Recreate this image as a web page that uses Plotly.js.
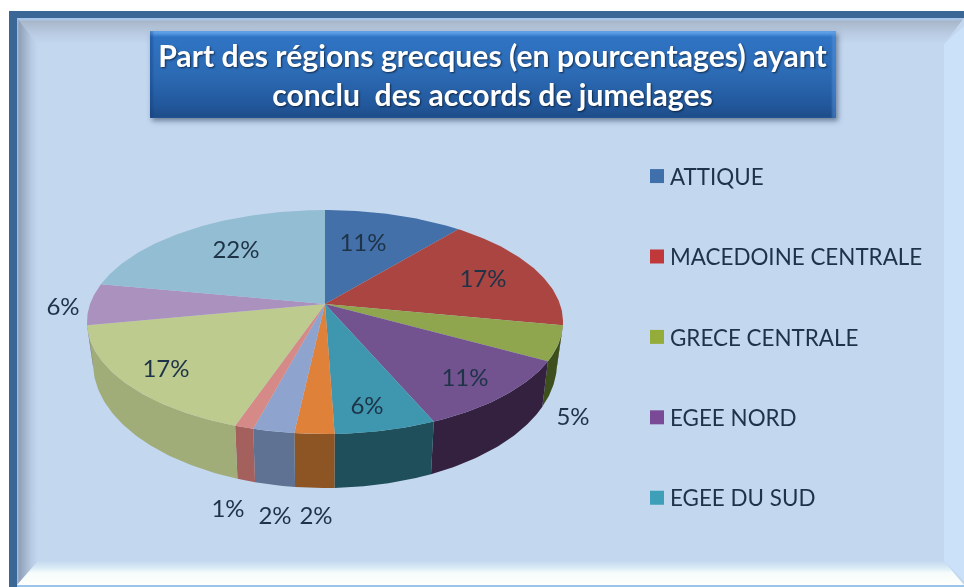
<!DOCTYPE html>
<html><head><meta charset="utf-8">
<script src="https://cdn.plot.ly/plotly-3.0.1.min.js"></script>
<style>
html,body{margin:0;padding:0;background:#fff;width:964px;height:587px;overflow:hidden}
#frame{position:absolute;left:9px;top:11px;width:955px;height:576px;background:linear-gradient(#3a6795,#3a6795)}
#inner{position:absolute;left:17px;top:18px;width:947px;height:569px;background:#c3d7ef}
.b{position:absolute}
#bt{left:17px;top:18px;width:947px;height:26px;background:linear-gradient(#a8c4e6 0,#a8c4e6 2px,#a9b6c8 3px,#b0c1d6 9px,#bccee6 18px,#c3d7ef 100%);clip-path:polygon(0 0,100% 0,calc(100% - 20px) 100%,21px 100%)}
#bl{left:17px;top:18px;width:21px;height:567px;background:linear-gradient(90deg,#a8c4e6 0,#8f9fb8 2px,#a3b5cc 8px,#b9cce5 15px,#c3d7ef 100%);clip-path:polygon(0 0,100% 26px,100% calc(100% - 24px),0 100%)}
#br{left:944px;top:18px;width:20px;height:567px;background:#cbe0f9;clip-path:polygon(0 26px,100% 8px,100% calc(100% - 4px),0 calc(100% - 24px))}
#bb{left:17px;top:561px;width:947px;height:24px;background:linear-gradient(#c4d9f0,#dcecf6 30%,#f6fcfc 50%,#fdfffb);clip-path:polygon(21px 0,calc(100% - 20px) 0,100% 100%,0 100%)}
#line{position:absolute;left:17px;top:585px;width:947px;height:2px;background:#9cc3ea}
#tbox{position:absolute;left:150px;top:31px;width:686px;height:87px;
 background:linear-gradient(#6fb0f0 0,#4f93de 3px,#2f74c4 6px,#2c6ab4 50%,#22589c 85%,#1d4c88 100%);
 box-shadow:2px 3px 5px rgba(40,60,90,.55),inset -4px 0 2px rgba(90,150,225,.45),inset 3px 0 2px rgba(20,60,120,.35)}
#plot{position:absolute;left:0;top:0;width:964px;height:587px;filter:blur(0.45px)}
</style></head><body>
<div id="frame"></div><div id="inner"></div>
<div class="b" id="bt"></div><div class="b" id="bl"></div><div class="b" id="br"></div><div class="b" id="bb"></div>
<div id="line"></div><div id="tbox"></div>
<div id="plot"></div>
<script>
// ---- data ----
const categories = ["ATTIQUE","MACEDOINE CENTRALE","GRECE CENTRALE","EGEE NORD","EGEE DU SUD",
  "IONIENNES","PELOPONNESE","EPIRE","THESSALIE","CRETE","AUTRES"];
const values = [11,17,5,10.5,5.9,2.3,2.4,1.1,16.7,6,22];
const legendCount = 5;
const topColors = ["#4370a8","#aa4541","#8fa64f","#72538f","#3e97ae","#e0813a","#8ea4cf","#d68a87","#bdcb8e","#ab91bd","#93bdd2"];
const wallColors = ["#2c4a70","#6f2c2a","#3d4f1c","#33213f","#1f4f5b","#8d5524","#5f7293","#a3605c","#a0ad78","#74608a","#5f8aa0"];
const legendColors = ["#4070ab","#c0383a","#94ad3a","#7a4a96","#3d9fb8"];
const labelX = [363,483,573,465,367,316,275,228,166,63,236];
const labelY = [245,281,419,380,408,518,518,511,371,309,252];

// ---- projection of the pie disk (perspective view) ----
const CX=325, APEX_Y=304, A=234.9, B=109.1, K=0.1607;
const RX_TOP=238, RX_BOT=232, CY_BOT=363, RY_BOT=125;
const VIS_FROM=27.6, VIS_TO=72.4;
function rim(p){const t=2*Math.PI*p/100,u=Math.sin(t),v=Math.cos(t),w=1+K*v;
  return [CX+A*u/w, APEX_Y-B*v/w];}
function rimBottom(p){const q=rim(p),dx=(q[0]-CX)*RX_BOT/RX_TOP,r=Math.min(1,Math.abs(dx)/RX_BOT);
  return [CX+dx, CY_BOT+RY_BOT*Math.sqrt(1-r*r)];}
function steps(a,b){const out=[],n=Math.max(2,Math.ceil((b-a)*4));
  for(let i=0;i<=n;i++)out.push(a+(b-a)*i/n);return out;}

const total=values.reduce((s,v)=>s+v,0);
const traces=[]; let cum=0; const spans=values.map(v=>{const s=[cum,cum+v*100/total];cum=s[1];return s;});
const pct=v=>Math.round(v)+"%";
// side walls
spans.forEach((s,i)=>{
  const a=Math.max(s[0],VIS_FROM),b=Math.min(s[1],VIS_TO); if(b<=a)return;
  const ps=steps(a,b),top=ps.map(rim),bot=ps.slice().reverse().map(rimBottom),all=top.concat(bot);
  all.push(all[0]);
  traces.push({type:"scatter",mode:"lines",x:all.map(q=>q[0]),y:all.map(q=>q[1]),fill:"toself",
    fillcolor:wallColors[i],line:{width:0},hoverinfo:"skip",showlegend:false,name:categories[i]+" (side)"});
});
// top faces
spans.forEach((s,i)=>{
  const pts=[[CX,APEX_Y]].concat(steps(s[0],s[1]).map(rim));pts.push([CX,APEX_Y]);
  traces.push({type:"scatter",mode:"lines",x:pts.map(q=>q[0]),y:pts.map(q=>q[1]),fill:"toself",
    fillcolor:topColors[i],line:{width:0},name:categories[i],text:pct(values[i]),hoverinfo:"name+text",showlegend:false});
});
// value labels
traces.push({type:"scatter",mode:"text",x:labelX,y:labelY,text:values.map(pct),
  textposition:"middle center",textfont:{family:"Lato, sans-serif",size:24,color:"#1e3348"},
  hoverinfo:"skip",showlegend:false});
// legend entries
categories.slice(0,legendCount).forEach((c,i)=>{
  traces.push({type:"scatter",mode:"markers",x:[null],y:[null],name:c,legendgroup:"g"+i,
    marker:{symbol:"square",size:14,color:legendColors[i]}});
});
const layout={
  width:964,height:587,margin:{l:0,r:0,t:0,b:0},
  paper_bgcolor:"rgba(0,0,0,0)",plot_bgcolor:"rgba(0,0,0,0)",
  xaxis:{range:[0,964],visible:false,fixedrange:true},
  yaxis:{range:[587,0],visible:false,fixedrange:true},
  title:{text:"Part des régions grecques (en pourcentages) ayant<br>conclu  des accords de jumelages",
    x:492.5/964,xanchor:"center",xref:"paper",y:1-67/587,yanchor:"middle",yref:"container",
    font:{family:"Lato, sans-serif",size:30.2,weight:700,color:"#ffffff",shadow:"1px 1px 2px rgba(0,0,0,.6)"}},
  legend:{x:630/964,xanchor:"left",y:1-155/587,yanchor:"top",bgcolor:"rgba(0,0,0,0)",
    font:{family:"Lato, sans-serif",size:22.4,color:"#1e3348"},tracegroupgap:48.3,itemwidth:30,traceorder:"grouped"},
  showlegend:true
};
Plotly.newPlot("plot",traces,layout,{displayModeBar:false}).then(()=>{
  document.querySelectorAll(".legendsymbols").forEach(g=>g.setAttribute("transform","translate(7,0)"));
});
</script></body></html>
